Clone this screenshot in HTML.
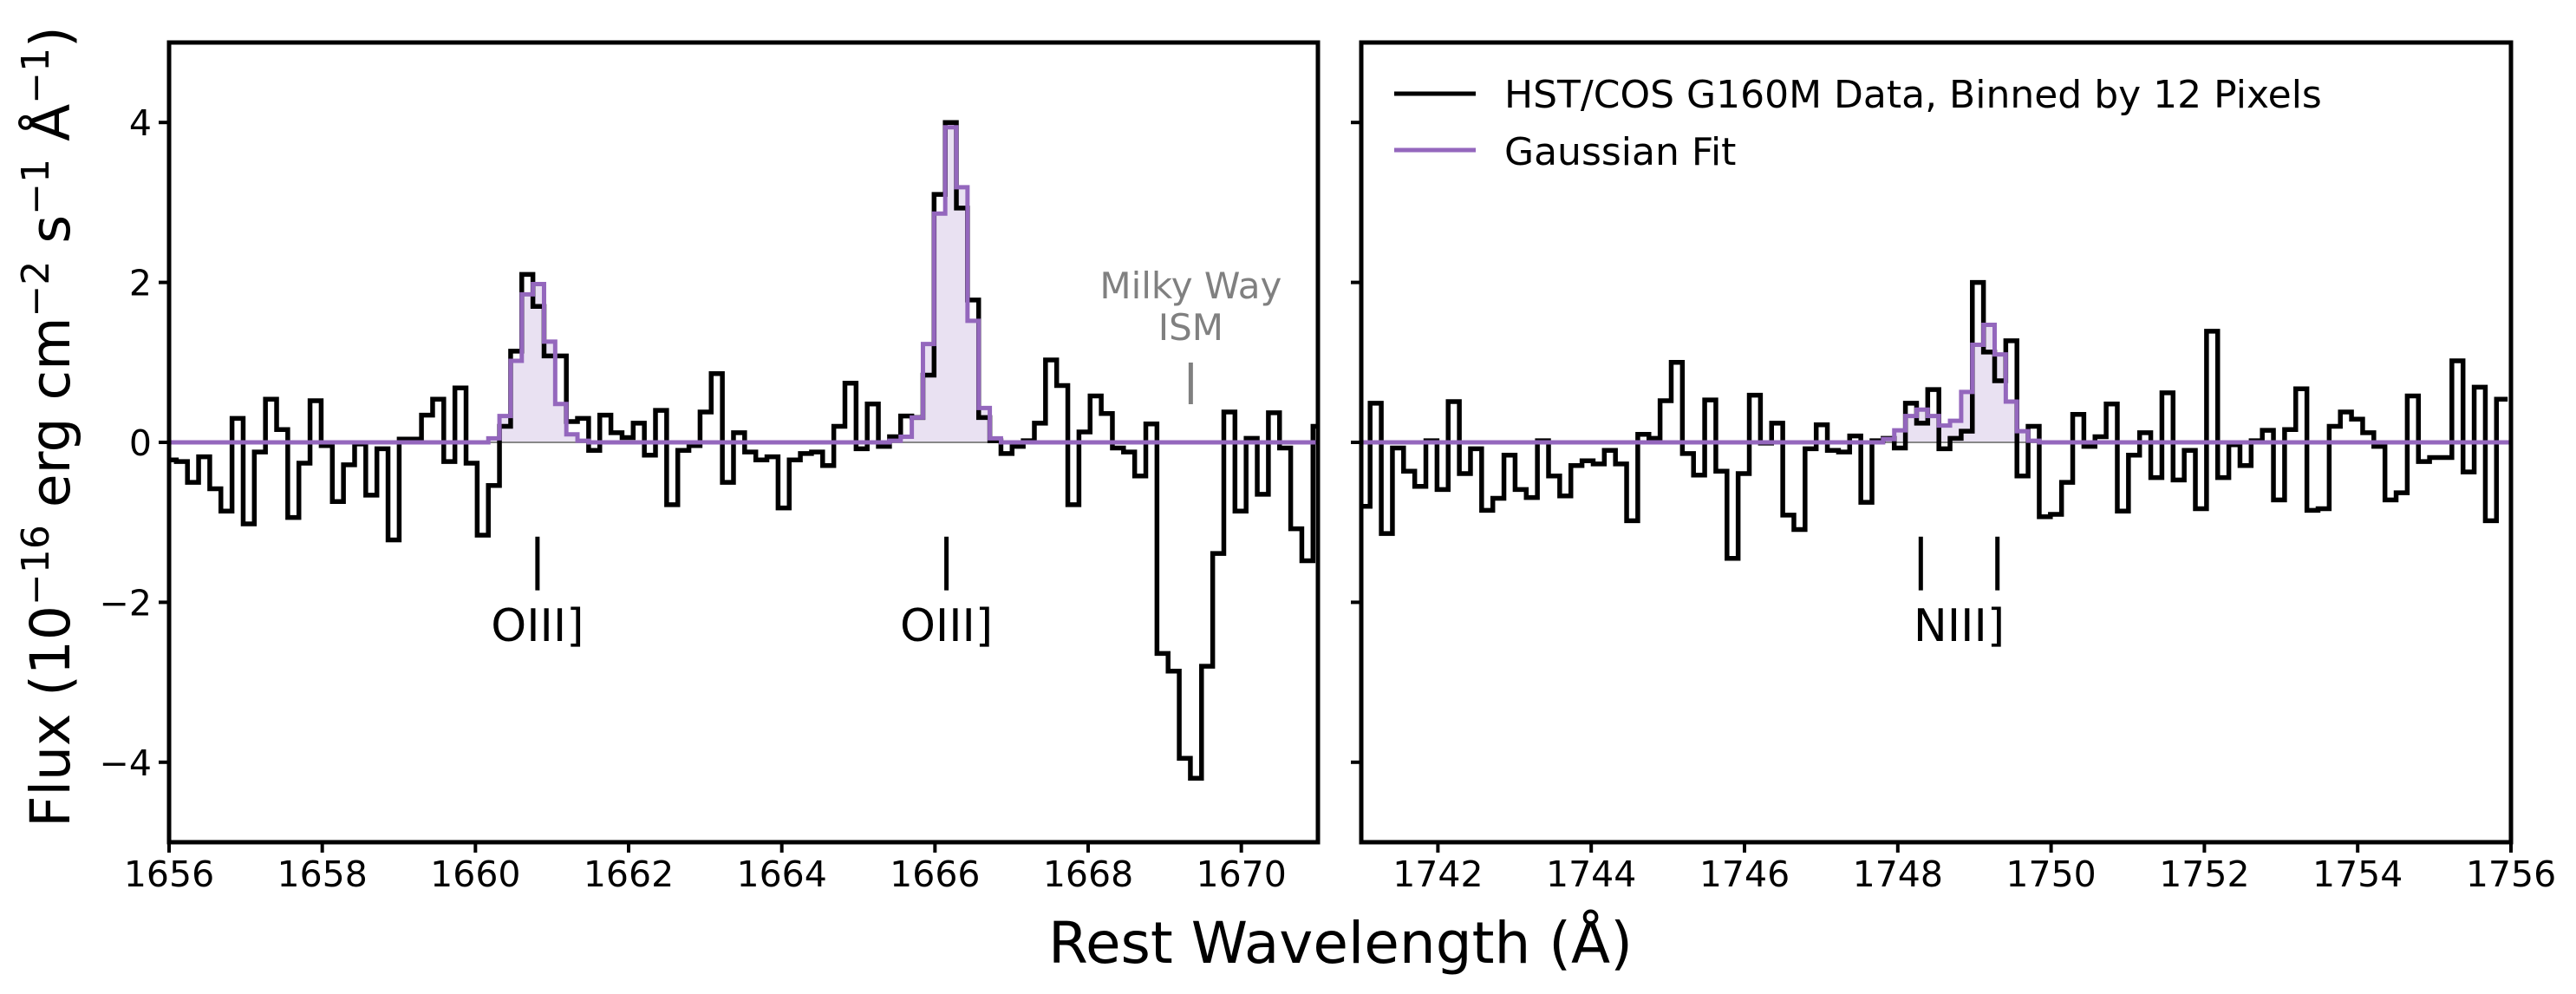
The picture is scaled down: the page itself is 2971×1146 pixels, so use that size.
<!DOCTYPE html>
<html><head><meta charset="utf-8"><style>
html,body{margin:0;padding:0;background:#fff;}
svg{display:block;font-family:"DejaVu Sans","Liberation Sans",sans-serif;}
</style></head><body>
<svg id="chart" width="2971" height="1146" viewBox="0 0 2971 1146" xmlns="http://www.w3.org/2000/svg">
<defs>
<clipPath id="clipL"><rect x="195" y="49" width="1325" height="922"/></clipPath>
<clipPath id="clipR"><rect x="1570" y="49" width="1326" height="922"/></clipPath>
</defs>
<g id="gL"></g>
<g id="gR"></g>
<text transform="translate(80,492) rotate(-90)" text-anchor="middle" font-size="63">Flux (10<tspan font-size="44" dy="-24">−16</tspan><tspan dy="24"> erg cm</tspan><tspan font-size="44" dy="-24">−2</tspan><tspan dy="24"> s</tspan><tspan font-size="44" dy="-24">−1</tspan><tspan dy="24"> Å</tspan><tspan font-size="44" dy="-24">−1</tspan><tspan dy="24">)</tspan></text>
<text x="1546" y="1110" text-anchor="middle" font-size="66">Rest Wavelength (Å)</text>
<g>
<line x1="1608" y1="108" x2="1702" y2="108" stroke="#000" stroke-width="5"/>
<text x="1735" y="124" font-size="44">HST/COS G160M Data, Binned by 12 Pixels</text>
<line x1="1608" y1="173" x2="1702" y2="173" stroke="#9467bd" stroke-width="5"/>
<text x="1735" y="190" font-size="44">Gaussian Fit</text>
</g>
</svg>
<script>
const binWidth = 0.1455;
const startL = 1655.949;
const fluxL = [-0.22,-0.24,-0.5,-0.18,-0.58,-0.86,0.30,-1.02,-0.12,0.54,0.16,-0.94,-0.26,0.52,-0.04,-0.74,-0.28,-0.02,-0.66,-0.08,-1.22,0.04,0.04,0.34,0.54,-0.24,0.68,-0.26,-1.16,-0.54,0.20,1.14,2.10,1.70,1.08,1.08,0.26,0.30,-0.10,0.34,0.12,0.06,0.24,-0.16,0.40,-0.78,-0.10,-0.04,0.38,0.86,-0.50,0.12,-0.12,-0.22,-0.18,-0.82,-0.22,-0.14,-0.12,-0.29,0.20,0.74,-0.08,0.48,-0.05,0.07,0.33,0.31,0.84,3.10,4.0,2.93,1.78,0.31,0.02,-0.14,-0.05,0.02,0.24,1.03,0.71,-0.78,0.13,0.58,0.36,-0.07,-0.12,-0.42,0.23,-2.64,-2.86,-3.95,-4.20,-2.80,-1.39,0.38,-0.86,0.05,-0.65,0.37,-0.07,-1.08,-1.48,0.20];
const fitStartIdxL1 = 29;
const fitL1 = [0.05,0.33,1.02,1.85,1.98,1.26,0.48,0.10,0.02];
const fitStartIdxL2 = 65;
const fitL2 = [0.02,0.07,0.31,1.23,2.86,3.94,3.19,1.52,0.43,0.05];
const startR = 1740.97;
const fluxR = [-0.80,0.49,-1.14,-0.07,-0.36,-0.55,0.02,-0.59,0.51,-0.39,-0.08,-0.85,-0.70,-0.16,-0.59,-0.69,0.02,-0.42,-0.67,-0.29,-0.23,-0.27,-0.10,-0.27,-0.98,0.10,0.05,0.52,1.0,-0.14,-0.41,0.53,-0.36,-1.45,-0.39,0.59,-0.01,0.24,-0.91,-1.09,-0.08,0.22,-0.10,-0.12,0.08,-0.75,0.02,0.05,-0.07,0.49,0.24,0.66,-0.08,0.05,0.14,2.0,1.13,0.77,1.27,-0.42,0.20,-0.93,-0.90,-0.50,0.35,-0.05,0.07,0.48,-0.86,-0.16,0.12,-0.44,0.62,-0.47,-0.10,-0.83,1.39,-0.44,-0.03,-0.29,0.02,0.15,-0.72,0.16,0.67,-0.85,-0.83,0.20,0.38,0.29,0.12,-0.05,-0.72,-0.63,0.58,-0.24,-0.19,-0.19,1.02,-0.37,0.69,-0.98,0.54];
const fitStartIdxR = 47;
const fitR = [0.04,0.15,0.33,0.41,0.33,0.21,0.27,0.63,1.22,1.47,1.10,0.51,0.14,0.02];
const yTicks = [-4,-2,0,2,4];
const xTicksL = [1656,1658,1660,1662,1664,1666,1668,1670];
const xTicksR = [1742,1744,1746,1748,1750,1752,1754,1756];
const linesL = [{w:1660.81,label:"OIII]"},{w:1666.15,label:"OIII]"}];
const linesR = [{w:1748.30},{w:1749.30}];
const labelR = {w:1748.80,label:"NIII]"};
const ismW = 1669.34;

const NS = "http://www.w3.org/2000/svg";
const TOP = 49, BOT = 971;
function yS(v){ return 510 - v*92.2; }
function mk(tag, attrs, parent){ const e=document.createElementNS(NS,tag); for(const k in attrs) e.setAttribute(k,attrs[k]); parent.appendChild(e); return e; }

function stepPath(start, vals, xS){
  let d = "";
  for(let i=0;i<vals.length;i++){
    const x0 = xS(start+i*binWidth), x1 = xS(start+(i+1)*binWidth), y = yS(vals[i]);
    d += (i===0 ? "M"+x0+","+y : "L"+x0+","+y) + " L"+x1+","+y+" ";
  }
  return d;
}

function panel(g, clip, x0, x1, wMin, wMax, flux, start, fits, xTicks, showYLabels, name){
  const xS = w => x0 + (w-wMin)/(wMax-wMin)*(x1-x0);
  const inner = mk("g",{"clip-path":"url(#"+clip+")"},g);
  const full = flux.map(()=>0);
  fits.forEach(f=>{ f.vals.forEach((v,k)=>{ full[f.idx+k]=v; }); });
  fits.forEach(f=>{
    let fd = "M"+xS(start+f.idx*binWidth)+","+yS(0)+" ";
    for(let i=f.idx;i<f.idx+f.vals.length;i++){
      fd += "L"+xS(start+i*binWidth)+","+yS(full[i])+" L"+xS(start+(i+1)*binWidth)+","+yS(full[i])+" ";
    }
    fd += "L"+xS(start+(f.idx+f.vals.length)*binWidth)+","+yS(0)+" Z";
    const fill = mk("path",{d:fd,fill:"#e9e1f2",stroke:"none"},inner);
    
    
  });
  const zl = mk("line",{x1:x0,x2:x1,y1:yS(0),y2:yS(0),stroke:"#888",'stroke-width':2},inner);
  
  
  const dp = mk("path",{d:stepPath(start,flux,xS),fill:"none",stroke:"#000",'stroke-width':5.5,'stroke-linejoin':"miter"},inner);
  
  
  const fp = mk("path",{d:"M"+x0+","+yS(0)+" "+stepPath(start,full,xS).replace(/^M/,"L")+" L"+x1+","+yS(0),fill:"none",stroke:"#9467bd",'stroke-width':5},inner);
  
  
  const fr = mk("rect",{x:x0,y:TOP,width:x1-x0,height:BOT-TOP,fill:"none",stroke:"#000",'stroke-width':5},g);
  
  
  xTicks.forEach(t=>{
    const x = xS(t);
    const tk = mk("line",{x1:x,x2:x,y1:BOT,y2:BOT+12,stroke:"#000",'stroke-width':4},g);
    
    
    const tl = mk("text",{x:x,y:1022,'text-anchor':"middle",'font-size':41},g);
    tl.textContent = t;
    
    
  });
  yTicks.forEach(t=>{
    const y = yS(t);
    const tk = mk("line",{x1:x0-12,x2:x0,y1:y,y2:y,stroke:"#000",'stroke-width':4},g);
    
    
    if(showYLabels){
      const tl = mk("text",{x:x0-20,y:y+15,'text-anchor':"end",'font-size':41},g);
      tl.textContent = t<0 ? "\u2212"+Math.abs(t) : String(t);
      
      
    }
  });
  return xS;
}

const gL = document.getElementById("gL"), gR = document.getElementById("gR");
const xSL = panel(gL,"clipL",195,1520,1656,1671,fluxL,startL,[{idx:fitStartIdxL1,vals:fitL1},{idx:fitStartIdxL2,vals:fitL2}],xTicksL,true,"left");
const xSR = panel(gR,"clipR",1570,2896,1741,1756,fluxR,startR,[{idx:fitStartIdxR,vals:fitR}],xTicksR,false,"right");

linesL.forEach(l=>{
  const x = xSL(l.w);
  const m = mk("line",{x1:x,x2:x,y1:yS(-1.18),y2:yS(-1.85),stroke:"#000",'stroke-width':5},gL);
  
  
  const t = mk("text",{x:x,y:739,'text-anchor':"middle",'font-size':52},gL);
  t.textContent = l.label;
  
  
});
linesR.forEach(l=>{
  const x = xSR(l.w);
  const m = mk("line",{x1:x,x2:x,y1:yS(-1.18),y2:yS(-1.85),stroke:"#000",'stroke-width':5},gR);
  
  
});
const nl = mk("text",{x:xSR(labelR.w),y:739,'text-anchor':"middle",'font-size':52},gR);
nl.textContent = labelR.label;



const ix = xSL(ismW);
const im = mk("line",{x1:ix,x2:ix,y1:418,y2:466,stroke:"#808080",'stroke-width':5},gL);


const it1 = mk("text",{x:ix,y:344,'text-anchor':"middle",'font-size':42,fill:"#808080"},gL);
it1.textContent = "Milky Way";


const it2 = mk("text",{x:ix,y:392,'text-anchor':"middle",'font-size':42,fill:"#808080"},gL);
it2.textContent = "ISM";


</script>
</body></html>
